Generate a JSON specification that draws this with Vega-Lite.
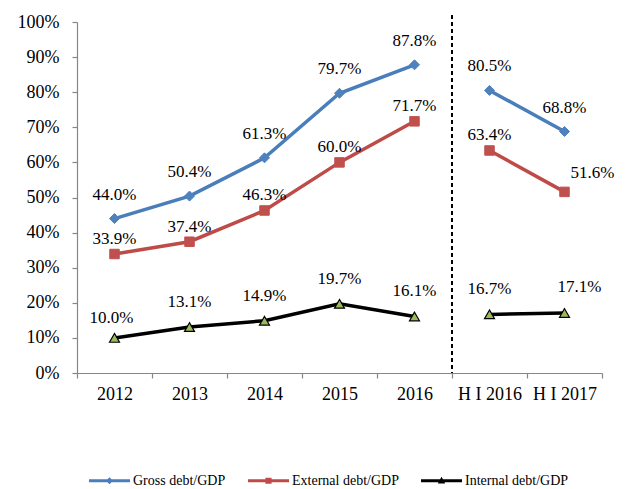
{
  "$schema": "https://vega.github.io/schema/vega-lite/v6.json",
  "width": 525,
  "height": 351,
  "autosize": {"type": "none"},
  "padding": {"left": 77, "top": 22, "right": 25, "bottom": 116},
  "background": "white",
  "config": {
    "view": {"stroke": null},
    "font": "Liberation Serif",
    "axis": {
      "labelFont": "Liberation Serif",
      "labelFontSize": 18,
      "labelColor": "#000000",
      "domainColor": "#868686",
      "tickColor": "#868686",
      "domainWidth": 1.2,
      "tickWidth": 1.2,
      "tickSize": 5,
      "grid": false,
      "title": null
    }
  },
  "data": {
    "values": [
      {"cat": "2012", "period": "annual", "series": "Gross debt/GDP", "v": 0.440},
      {"cat": "2013", "period": "annual", "series": "Gross debt/GDP", "v": 0.504},
      {"cat": "2014", "period": "annual", "series": "Gross debt/GDP", "v": 0.613},
      {"cat": "2015", "period": "annual", "series": "Gross debt/GDP", "v": 0.797},
      {"cat": "2016", "period": "annual", "series": "Gross debt/GDP", "v": 0.878},
      {"cat": "H I 2016", "period": "half", "series": "Gross debt/GDP", "v": 0.805},
      {"cat": "H I 2017", "period": "half", "series": "Gross debt/GDP", "v": 0.688},
      {"cat": "2012", "period": "annual", "series": "External debt/GDP", "v": 0.339},
      {"cat": "2013", "period": "annual", "series": "External debt/GDP", "v": 0.374},
      {"cat": "2014", "period": "annual", "series": "External debt/GDP", "v": 0.463},
      {"cat": "2015", "period": "annual", "series": "External debt/GDP", "v": 0.600},
      {"cat": "2016", "period": "annual", "series": "External debt/GDP", "v": 0.717},
      {"cat": "H I 2016", "period": "half", "series": "External debt/GDP", "v": 0.634},
      {"cat": "H I 2017", "period": "half", "series": "External debt/GDP", "v": 0.516},
      {"cat": "2012", "period": "annual", "series": "Internal debt/GDP", "v": 0.100},
      {"cat": "2013", "period": "annual", "series": "Internal debt/GDP", "v": 0.131},
      {"cat": "2014", "period": "annual", "series": "Internal debt/GDP", "v": 0.149},
      {"cat": "2015", "period": "annual", "series": "Internal debt/GDP", "v": 0.197},
      {"cat": "2016", "period": "annual", "series": "Internal debt/GDP", "v": 0.161},
      {"cat": "H I 2016", "period": "half", "series": "Internal debt/GDP", "v": 0.167},
      {"cat": "H I 2017", "period": "half", "series": "Internal debt/GDP", "v": 0.171}
    ]
  },
  "encoding": {
    "x": {
      "field": "cat",
      "type": "nominal",
      "sort": ["2012", "2013", "2014", "2015", "2016", "H I 2016", "H I 2017"],
      "scale": {"paddingInner": 0, "paddingOuter": 0},
      "axis": {"labelAngle": 0, "tickBand": "extent", "labelPadding": 7}
    },
    "y": {
      "field": "v",
      "type": "quantitative",
      "scale": {"domain": [0, 1], "nice": false, "zero": true},
      "axis": {"format": ".0%", "values": [0, 0.1, 0.2, 0.3, 0.4, 0.5, 0.6, 0.7, 0.8, 0.9, 1.0], "labelPadding": 13}
    }
  },
  "layer": [
    {
      "mark": {"type": "rule", "color": "#000000", "strokeWidth": 2, "strokeDash": [4, 3]},
      "encoding": {
        "x": {"datum": "H I 2016", "bandPosition": 0},
        "y": {"datum": 1.02},
        "y2": {"datum": 0}
      }
    },
    {
      "mark": {"type": "line", "strokeWidth": 3.5},
      "encoding": {
        "detail": {"field": "period"},
        "color": {
          "field": "series",
          "type": "nominal",
          "scale": {
            "domain": ["Gross debt/GDP", "External debt/GDP", "Internal debt/GDP"],
            "range": ["#4A7EBB", "#BE4B48", "#000000"]
          },
          "legend": {
            "title": null,
            "orient": "none",
            "direction": "horizontal",
            "legendX": 12,
            "legendY": 438,
            "symbolSize": 1681,
            "symbolStrokeWidth": 0,
            "labelFont": "Liberation Serif",
            "labelFontSize": 14,
            "labelColor": "#000000",
            "labelOffset": 3,
            "columnPadding": 22,
            "encode": {
              "symbols": {
                "update": {
                  "shape": {"signal": "datum.value === 'Gross debt/GDP' ? 'M-1,-0.075H1V0.075H-1Z M0,-0.17L0.17,0L0,0.17L-0.17,0Z' : datum.value === 'External debt/GDP' ? 'M-1,-0.075H1V0.075H-1Z M-0.15,-0.15H0.15V0.15H-0.15Z' : 'M-1,-0.075H1V0.075H-1Z M0,-0.2L0.18,0.13H-0.18Z'"},
                  "fill": {"signal": "scale('color', datum.value)"},
                  "stroke": {"value": "transparent"},
                  "strokeWidth": {"value": 0}
                }
              }
            }
          }
        }
      }
    },
    {
      "transform": [{"filter": "datum.series === 'Gross debt/GDP'"}],
      "mark": {"type": "point", "shape": "diamond", "filled": true, "opacity": 1, "fill": "#4F81BD", "stroke": "#4F81BD", "strokeWidth": 1, "size": 100}
    },
    {
      "transform": [{"filter": "datum.series === 'External debt/GDP'"}],
      "mark": {"type": "point", "shape": "square", "filled": true, "opacity": 1, "fill": "#C0504D", "stroke": "#C0504D", "strokeWidth": 1, "size": 90}
    },
    {
      "transform": [{"filter": "datum.series === 'Internal debt/GDP'"}],
      "mark": {"type": "point", "shape": "triangle-up", "filled": true, "opacity": 1, "fill": "#9BBB59", "stroke": "#000000", "strokeWidth": 1.2, "size": 100}
    },
    {
      "transform": [{"filter": "datum.series === 'Gross debt/GDP'"}],
      "mark": {"type": "text", "fontSize": 17, "font": "Liberation Serif", "color": "#000000", "baseline": "middle", "dy": -24},
      "encoding": {"text": {"field": "v", "format": ".1%"}}
    },
    {
      "transform": [{"filter": "datum.series === 'External debt/GDP' && datum.cat !== 'H I 2017'"}],
      "mark": {"type": "text", "fontSize": 17, "font": "Liberation Serif", "color": "#000000", "baseline": "middle", "dy": -15},
      "encoding": {"text": {"field": "v", "format": ".1%"}}
    },
    {
      "transform": [{"filter": "datum.series === 'External debt/GDP' && datum.cat === 'H I 2017'"}],
      "mark": {"type": "text", "fontSize": 17, "font": "Liberation Serif", "color": "#000000", "baseline": "middle", "dx": 28, "dy": -19},
      "encoding": {"text": {"field": "v", "format": ".1%"}}
    },
    {
      "transform": [{"filter": "datum.series === 'Internal debt/GDP' && datum.cat !== '2012' && datum.cat !== 'H I 2017'"}],
      "mark": {"type": "text", "fontSize": 17, "font": "Liberation Serif", "color": "#000000", "baseline": "middle", "dy": -25},
      "encoding": {"text": {"field": "v", "format": ".1%"}}
    },
    {
      "transform": [{"filter": "datum.series === 'Internal debt/GDP' && datum.cat === '2012'"}],
      "mark": {"type": "text", "fontSize": 17, "font": "Liberation Serif", "color": "#000000", "baseline": "middle", "dx": -3, "dy": -20},
      "encoding": {"text": {"field": "v", "format": ".1%"}}
    },
    {
      "transform": [{"filter": "datum.series === 'Internal debt/GDP' && datum.cat === 'H I 2017'"}],
      "mark": {"type": "text", "fontSize": 17, "font": "Liberation Serif", "color": "#000000", "baseline": "middle", "dx": 15, "dy": -26},
      "encoding": {"text": {"field": "v", "format": ".1%"}}
    }
  ]
}
